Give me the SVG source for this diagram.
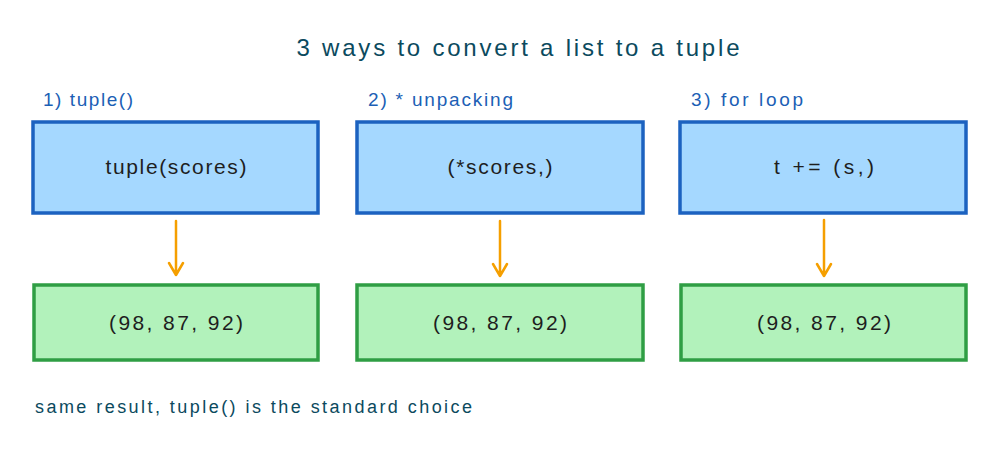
<svg xmlns="http://www.w3.org/2000/svg" width="1000" height="453" viewBox="0 0 1000 453">
<style>
  text { font-family: "Liberation Sans", "Noto Sans", sans-serif; }
  .title { font-size: 24px; fill: #0b4a5e; text-anchor: middle; }
  .label { font-size: 19px; fill: #1c5fb5; }
  .note { font-size: 18px; fill: #0b4a5e; }
  .code { font-size: 21px; fill: #1e1e1e; text-anchor: middle; dominant-baseline: central; }
  .blue { fill: #a5d8ff; stroke: #1c62c0; stroke-width: 3.5; }
  .green { fill: #b2f2bb; stroke: #2f9e44; stroke-width: 3.5; }
  .arrow { stroke: #f59f00; stroke-width: 2.5; fill: none; stroke-linecap: round; stroke-linejoin: round; }
</style>
<rect width="1000" height="453" fill="#ffffff"/>
<text class="title" x="518" y="56" textLength="443" lengthAdjust="spacing">3 ways to convert a list to a tuple</text>
<text class="label" x="43" y="106" textLength="90" lengthAdjust="spacing">1) tuple()</text>
<text class="label" x="368" y="106" textLength="145" lengthAdjust="spacing">2) * unpacking</text>
<text class="label" x="691" y="106" textLength="112" lengthAdjust="spacing">3) for loop</text>

<g id="node-tuple">
  <rect class="blue" x="33" y="122" width="285" height="91"/>
  <text class="code" x="176" y="166" textLength="141" lengthAdjust="spacing">tuple(scores)</text>
</g>
<g id="node-unpack">
  <rect class="blue" x="357" y="122" width="286" height="91"/>
  <text class="code" x="500" y="166" textLength="105" lengthAdjust="spacing">(*scores,)</text>
</g>
<g id="node-loop">
  <rect class="blue" x="680" y="122" width="286" height="91"/>
  <text class="code" x="824" y="166" textLength="100" lengthAdjust="spacing">t += (s,)</text>
</g>
<g id="node-result1">
  <rect class="green" x="34" y="285" width="284" height="75"/>
  <text class="code" x="176" y="322" textLength="134" lengthAdjust="spacing">(98, 87, 92)</text>
</g>
<g id="node-result2">
  <rect class="green" x="357" y="285" width="286" height="75"/>
  <text class="code" x="500" y="322" textLength="134" lengthAdjust="spacing">(98, 87, 92)</text>
</g>
<g id="node-result3">
  <rect class="green" x="681" y="285" width="285" height="75"/>
  <text class="code" x="824" y="322" textLength="134" lengthAdjust="spacing">(98, 87, 92)</text>
</g>

<g id="connectors">
  <path class="arrow" d="M176 221 L176 275 M169 263 L176 275 L183 263"/>
  <path class="arrow" d="M500 221 L500 276 M493 264 L500 276 L507 264"/>
  <path class="arrow" d="M824 220 L824 276 M817 264 L824 276 L831 264"/>
</g>

<text class="note" x="35" y="413" textLength="437" lengthAdjust="spacing">same result, tuple() is the standard choice</text>
</svg>
